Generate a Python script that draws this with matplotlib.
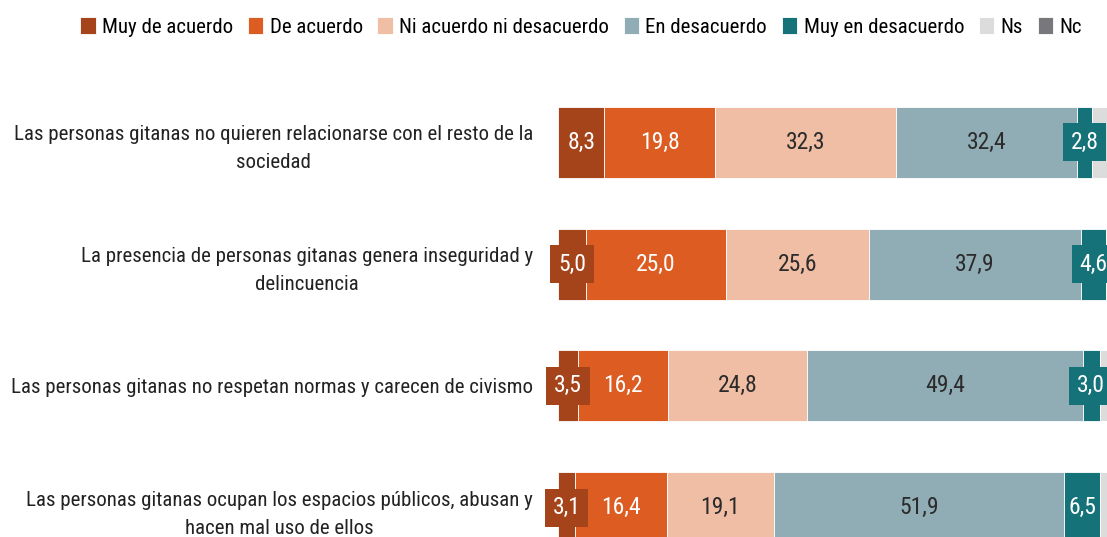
import matplotlib
matplotlib.use("Agg")
import matplotlib.pyplot as plt
import numpy as np

plt.rcParams['font.family'] = ['Roboto Condensed', 'DejaVu Sans']

categories = [
    "Las personas gitanas no quieren relacionarse con el resto de la\nsociedad",
    "La presencia de personas gitanas genera inseguridad y\ndelincuencia",
    "Las personas gitanas no respetan normas y carecen de civismo",
    "Las personas gitanas ocupan los espacios públicos, abusan y\nhacen mal uso de ellos",
]
series = ["Muy de acuerdo", "De acuerdo", "Ni acuerdo ni desacuerdo",
          "En desacuerdo", "Muy en desacuerdo", "Ns", "Nc"]
muy_de_acuerdo = [8.3, 5.0, 3.5, 3.1]
de_acuerdo = [19.8, 25.0, 16.2, 16.4]
ni_acuerdo = [32.3, 25.6, 24.8, 19.1]
en_desacuerdo = [32.4, 37.9, 49.4, 51.9]
muy_en_desacuerdo = [2.8, 4.6, 3.0, 6.5]
ns = [4.0, 1.6, 2.8, 2.7]
nc = [0.4, 0.3, 0.3, 0.3]

colors = ["#A5431A", "#DD5C22", "#F0BDA5", "#90ADB5", "#147278", "#DCDCDC", "#77777C"]
text_colors = ["white", "white", "#2b2b2b", "#2b2b2b", "white", None, None]

data = [muy_de_acuerdo, de_acuerdo, ni_acuerdo, en_desacuerdo, muy_en_desacuerdo, ns, nc]

fig = plt.figure(figsize=(11.07, 5.37), dpi=100)
# axes runs past the right and bottom edges, like the cropped original
ax = fig.add_axes([558 / 1107, 1 - 568.8 / 537, 559 / 1107, 487.6 / 537])

y = np.arange(len(categories))
left = np.zeros(len(categories))
for i, (name, vals) in enumerate(zip(series, data)):
    vals = np.array(vals)
    ax.barh(y, vals, left=left, height=0.583, color=colors[i], label=name,
            edgecolor="white", linewidth=0.6)
    if text_colors[i] is not None:
        for j, v in enumerate(vals):
            lbl = f"{v:.1f}".replace(".", ",")
            kw = {}
            if v < 6:
                kw["bbox"] = dict(boxstyle="square,pad=0.33", fc=colors[i], ec="none")
            ax.text(left[j] + v / 2, y[j], lbl, ha="center", va="center",
                    fontsize=17, color=text_colors[i], **kw)
    left += vals

ax.set_xlim(0, 100)
ax.set_ylim(3.5, -0.5)
ax.set_yticks(y)
ax.set_yticklabels(categories, fontsize=15, color="#222222", linespacing=1.6)
for lab in ax.get_yticklabels():
    lab.set_multialignment("center")
ax.tick_params(axis="y", length=0, pad=18)
ax.set_xticks([])
for s in ax.spines.values():
    s.set_visible(False)

fig.legend(loc="center", bbox_to_anchor=(581 / 1107, 1 - 27 / 537), ncol=7,
           frameon=False, fontsize=15, handlelength=0.75, handleheight=0.9,
           handletextpad=0.3, columnspacing=0.7, borderaxespad=0)

fig.savefig("out.png", dpi=100)
